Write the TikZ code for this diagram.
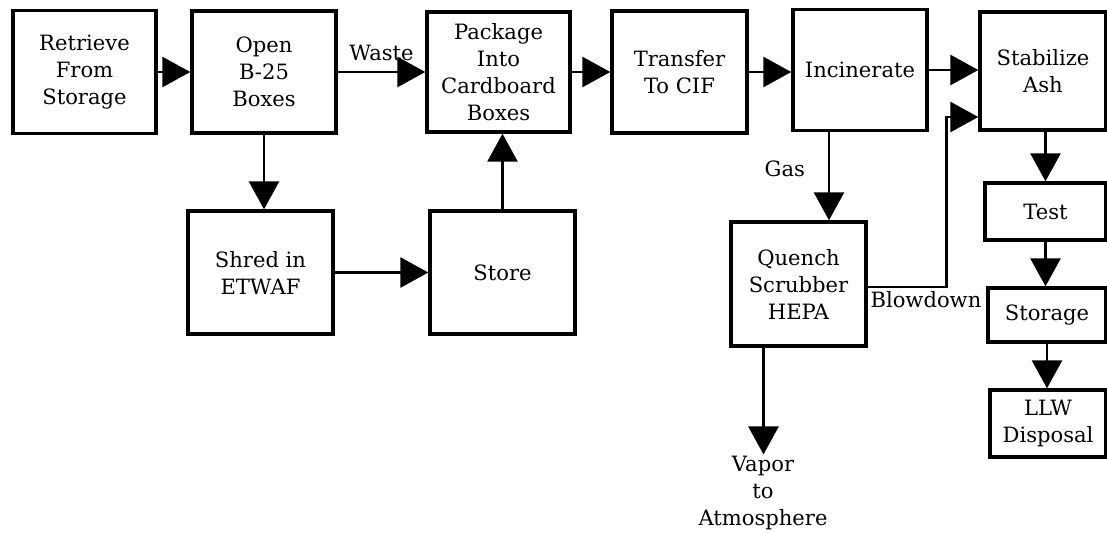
\documentclass[tikz,border=0pt]{standalone}
\usepackage{fontspec}
\setmainfont{DejaVu Serif}
\usepackage{tikz}
\usetikzlibrary{positioning,arrows.meta}

\begin{document}
\begin{tikzpicture}[
    x=0.025cm, y=-0.025cm,
    font=\fontsize{15}{19.2}\selectfont,
    box/.style={rectangle, draw, line width=2.4pt, align=center, inner sep=0pt},
    arrow/.style={-{Triangle[length=0.7cm, width=0.75cm]}, line width=2pt}
]
    \useasboundingbox (0,0) rectangle (1107,533);

    \node[box, minimum width=3.575cm, minimum height=3.075cm] (retrieve) at (84.5,72) {Retrieve\\From\\Storage};
    \node[box, minimum width=3.6cm, minimum height=3.05cm] (open) at (264,72) {Open\\B-25\\Boxes};
    \node[box, minimum width=3.575cm, minimum height=3.0cm] (package) at (498.5,72) {Package\\Into\\Cardboard\\Boxes};
    \node[box, minimum width=3.375cm, minimum height=3.05cm] (transfer) at (679.5,72) {Transfer\\To CIF};
    \node[box, minimum width=3.35cm, minimum height=3.025cm] (incinerate) at (860,70) {Incinerate};
    \node[box, minimum width=3.15cm, minimum height=2.95cm] (stabilize) at (1043,71) {Stabilize\\Ash};
    \node[box, minimum width=3.625cm, minimum height=3.075cm] (shred) at (260.5,272.5) {Shred in\\ETWAF};
    \node[box, minimum width=3.625cm, minimum height=3.075cm] (store) at (502.5,272.5) {Store};
    \node[box, minimum width=3.375cm, minimum height=3.1cm] (quench) at (798.5,284) {Quench\\Scrubber\\HEPA};
    \node[box, minimum width=3.025cm, minimum height=1.425cm] (test) at (1045.5,211.5) {Test};
    \node[box, minimum width=2.95cm, minimum height=1.35cm] (storage) at (1047,315) {Storage};
    \node[box, minimum width=2.9cm, minimum height=1.675cm] (llw) at (1048,423.5) {LLW\\Disposal};
    \node[align=center, inner sep=1pt] (vapor) at (763,493) {Vapor\\to\\Atmosphere};

    \draw[arrow] (retrieve) -- (open);
    \draw[arrow] (open) -- (package) node[midway, above=0.12cm] {Waste};
    \draw[arrow] (package) -- (transfer);
    \draw[arrow] (transfer) -- (transfer -| incinerate.west);
    \draw[arrow] (incinerate) -- (incinerate -| stabilize.west);
    \draw[arrow] (open.south) -- (open.south |- shred.north);
    \draw[arrow] (shred) -- (store);
    \draw[arrow] (store.north) -- (store.north |- package.south);
    \draw[arrow] ([xshift=-0.775cm]incinerate.south) -- ([xshift=-0.775cm]incinerate.south |- quench.north)
        node[pos=0.42, left=0.45cm] {Gas};
    \draw[arrow] ([yshift=-0.075cm]quench.east)
        node[anchor=north west, inner sep=1pt, yshift=-0.05cm] {Blowdown}
        -- ++(1.975cm,0) |- ([yshift=-1.15cm]stabilize.west);
    \draw[arrow] (test.north |- stabilize.south) -- (test.north);
    \draw[arrow] (test.south) -- (test.south |- storage.north);
    \draw[arrow] (storage.south) -- (storage.south |- llw.north);
    \draw[arrow] ([xshift=-0.875cm]quench.south) -- ([xshift=-0.875cm]quench.south |- vapor.north);
\end{tikzpicture}
\end{document}
